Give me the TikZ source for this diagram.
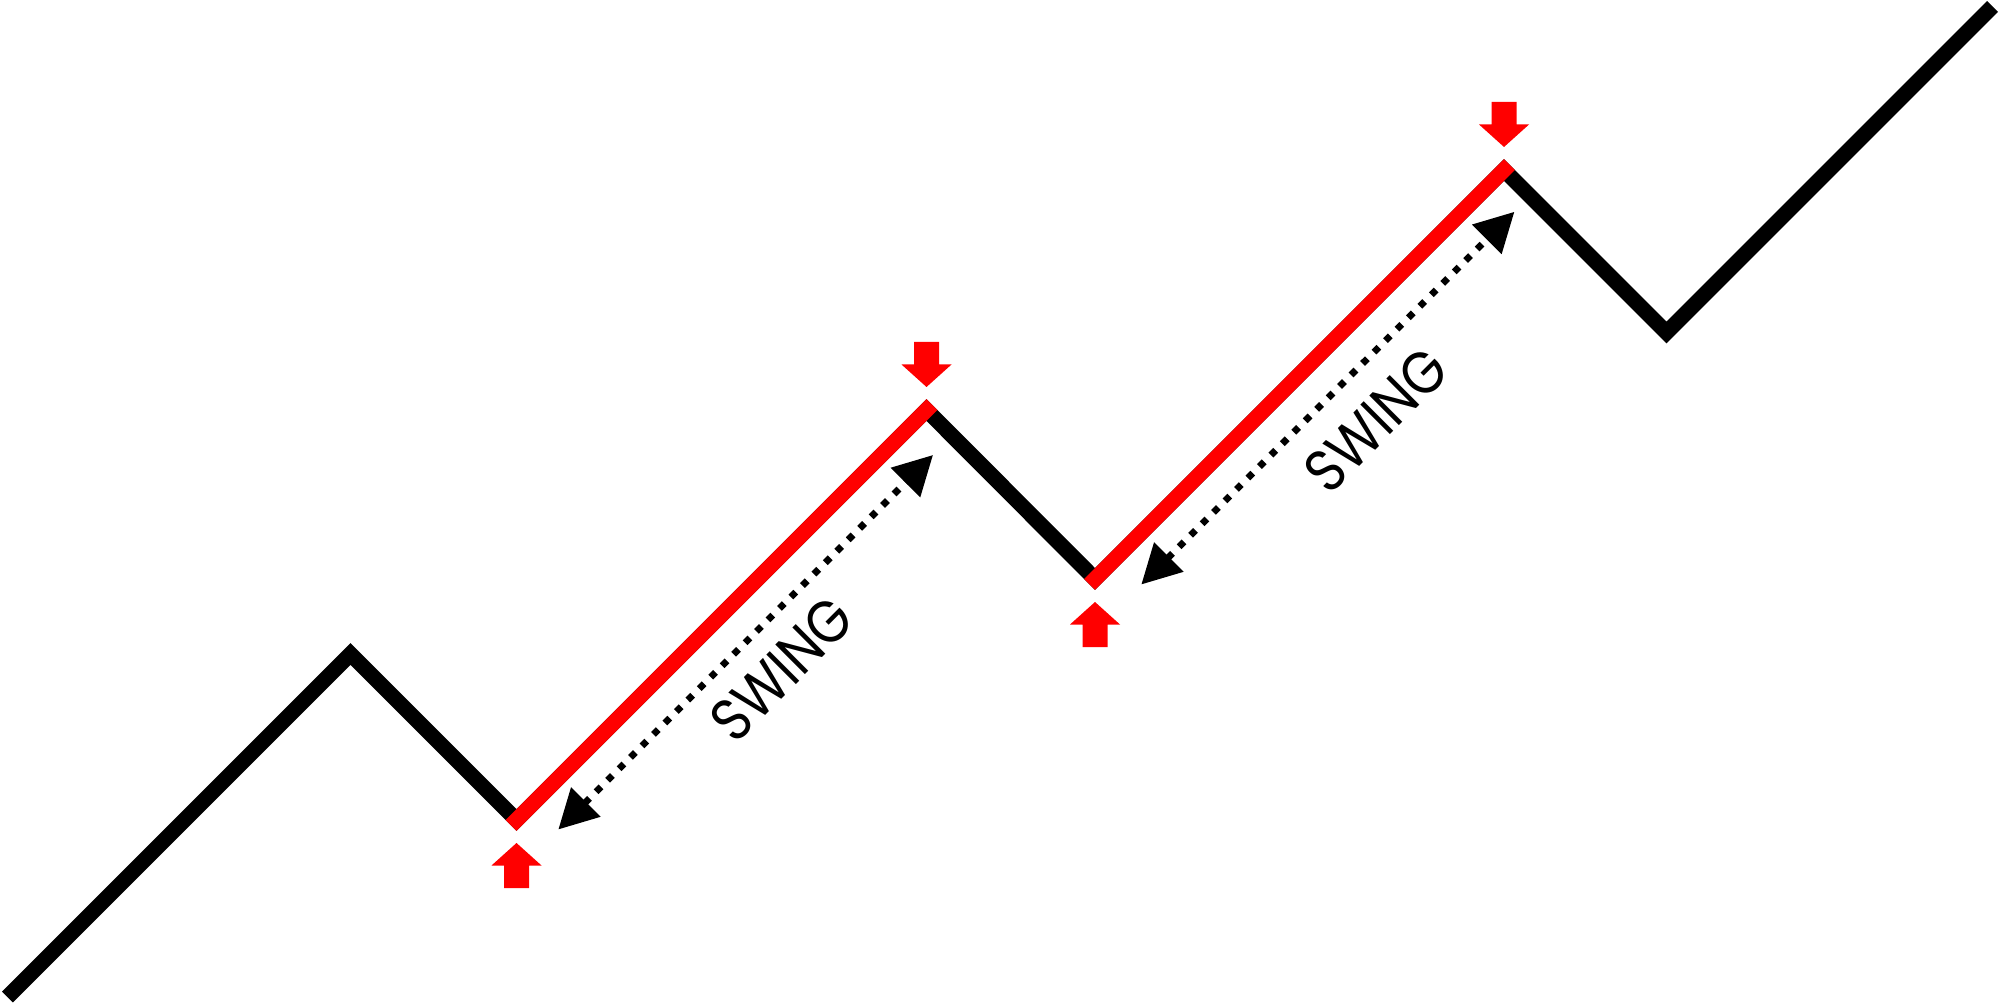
\documentclass[tikz,border=0pt]{standalone}
\usepackage{graphicx}
\usepackage{fontspec}
\setmainfont{Poppins}
\usetikzlibrary{arrows.meta}
\begin{document}
\begin{tikzpicture}[x=0.5pt,y=-0.5pt,
  zig/.style={line width=7.75pt, line join=miter, miter limit=10, draw=black},
  swingline/.style={line width=7.75pt, draw=red, line cap=rect},
  dotarrow/.style={line width=3.4pt, dash pattern=on 3.4pt off 4.7pt,
    {Triangle[length=19.5pt,width=20pt]}-{Triangle[length=19.5pt,width=20pt]}},
  swinglabel/.style={rotate=45, inner sep=0pt, font=\fontsize{30}{30}\selectfont},
  downflag/.pic={\fill[red] (0,0) -- (25,-22.5) -- (12.5,-22.5) -- (12.5,-45) -- (-12.5,-45) -- (-12.5,-22.5) -- (-25,-22.5) -- cycle;},
  upflag/.pic={\fill[red] (0,0) -- (25,22.5) -- (12.5,22.5) -- (12.5,45) -- (-12.5,45) -- (-12.5,22.5) -- (-25,22.5) -- cycle;}
]
\useasboundingbox (0,0) rectangle (2000,1004);
% turning points of the price path
\coordinate (L0) at (7.5,997);
\coordinate (P1) at (350.5,654);
\coordinate (V1) at (516.5,820);
\coordinate (P2) at (926.5,410);
\coordinate (V2) at (1095,579);
\coordinate (P3) at (1504,170);
\coordinate (V3) at (1666.5,332.5);
\coordinate (E) at (1992.5,6.5);
% path
\draw[zig] (L0) -- (P1) -- (V1) -- (P2) -- (V2) -- (P3) -- (V3) -- (E);
% highlighted swings
\draw[swingline] (V1) -- (P2);
\draw[swingline] (V2) -- (P3);
% dotted double arrows
\coordinate (a1s) at (558.3,829.5);
\coordinate (a1e) at (933,455);
\coordinate (a2s) at (1141.3,584.5);
\coordinate (a2e) at (1514.4,211.8);
\draw[dotarrow] (a1s) -- (a1e);
\draw[dotarrow] (a2s) -- (a2e);
% labels
\node[swinglabel] (t1) at (781.7,669.2) {\scalebox{0.88}[1]{SWING}};
\node[swinglabel] (t2) at (1375.8,420) {\scalebox{0.88}[1]{SWING}};
% red markers
\path (P2) ++(0,-23) pic {downflag};
\path (P3) ++(0,-23) pic {downflag};
\path (V1) ++(0,23) pic {upflag};
\path (V2) ++(0,23) pic {upflag};
\end{tikzpicture}
\end{document}
